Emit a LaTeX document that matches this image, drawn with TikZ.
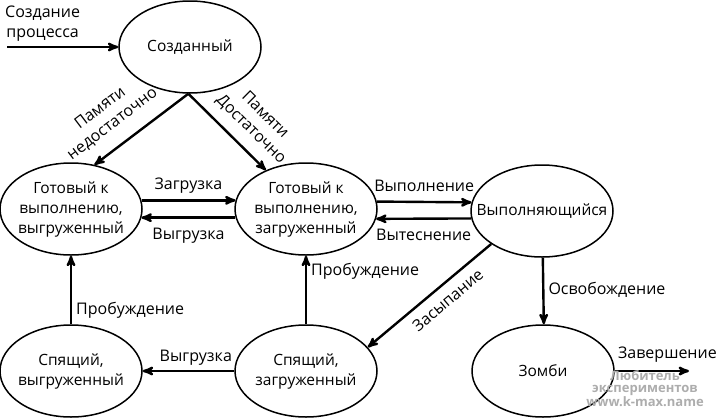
\documentclass[tikz,border=0pt]{standalone}
\usepackage{fontspec}
\setmainfont{Open Sans}
\usetikzlibrary{arrows,positioning,shapes.geometric}
\tikzset{
    %Define standard arrow tip
    >=stealth',
    %Define style for states
    state/.style={
           ellipse,
           draw=black, line width=1.5pt,
           minimum width=142pt,
           minimum height=92pt,
           inner xsep=-5pt,
           inner ysep=0pt,
           font=\fontsize{15.5}{20}\selectfont,
           align=center},
    % Define arrow style
    pil/.style={
           ->,
           line width=2.4pt},
    lbl/.style={
           font=\fontsize{16}{20}\selectfont,
           inner sep=1pt,
           align=center},
    mark text/.style={
           font=\bfseries\fontsize{13}{12}\selectfont,
           text=black!32,
           align=center}
}
\begin{document}
\begin{tikzpicture}[x=1pt,y=-1pt,node distance=235pt,on grid]
\useasboundingbox (0,0) rectangle (720,418);
\node[state] (Created) at (190,47) {Созданный};
\node[state] (ReadyOut) at (71,209) {Готовый к\\выполнению,\\выгруженный};
\node[state, right=of ReadyOut] (ReadyIn) {Готовый к\\выполнению,\\загруженный};
\node[state, right=236pt of ReadyIn, yshift=-2pt, inner xsep=-16pt] (Running) {Выполняющийся};
\node[state, below=162pt of ReadyOut] (SleepOut) {Спящий,\\выгруженный};
\node[state, right=of SleepOut] (SleepIn) {Спящий,\\загруженный};
\node[state, right=237pt of SleepIn] (Zombie) {Зомби};
\coordinate (Start) at (7,47);
\coordinate (End) at (689,371);
\node[lbl, anchor=south west] at (4,43) (StartText) {Создание\\процесса};
\path[pil]
	(Start) edge (Created)
	(Created.-92) edge node[lbl, sloped, above=12pt, pos=0.67] {Памяти\\недостаточно} (ReadyOut.62)
	(Created.-92) edge node[lbl, sloped, above=9pt, pos=0.64] {Памяти\\Достаточно} (ReadyIn.136)
	(ReadyOut.7) edge node[lbl, above=5pt] {Загрузка} (ReadyIn.173)
	(ReadyIn.-173) edge node[lbl, below=8pt] {Выгрузка} (ReadyOut.-7)
	(ReadyIn.6) edge node[lbl, above=8pt] {Выполнение} (Running.173)
	(Running.-174) edge node[lbl, below=8pt] {Вытеснение} (ReadyIn.-8)
	(SleepOut.north) edge node[lbl, right=3pt, pos=0.21] {Пробуждение} (ReadyOut.south)
	(SleepIn.north) edge node[lbl, right=3pt, pos=0.77] {Пробуждение} (ReadyIn.south)
	(SleepIn.west) edge node[lbl, above=3pt, pos=0.42] {Выгрузка} (SleepOut.east)
	(Running.213) edge node[lbl, sloped, below=7pt, pos=0.43] {Засыпание} (SleepIn.21)
	(Running.-89) edge node[lbl, right=3pt, pos=0.48] {Освобождение} (Zombie.89)
	(Zombie.east) edge node[lbl, above=6pt, pos=0.71] {Завершение} (End);
\node[mark text] at (645,389) (Stamp) {Любитель\\экспериментов\\www.k-max.name};
\end{tikzpicture}
\end{document}
